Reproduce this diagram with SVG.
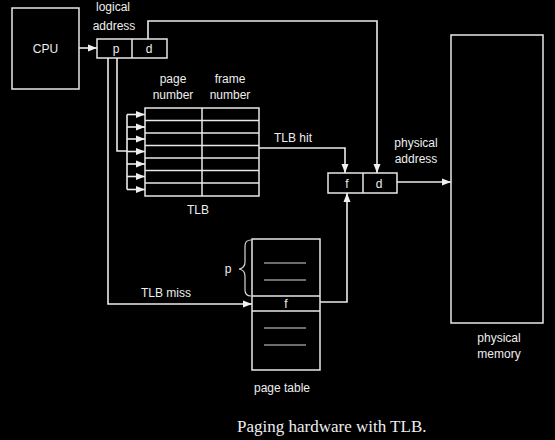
<svg xmlns="http://www.w3.org/2000/svg" width="555" height="440" viewBox="0 0 555 440">
<style>
.bg{fill:#000}
.box{fill:none;stroke:#e8e8e8;stroke-width:1.5}
.ln{fill:none;stroke:#e8e8e8;stroke-width:1.5}
.thin{fill:none;stroke:#d8d8d8;stroke-width:1.2}
.c{fill:none;stroke:#ececec;stroke-width:1.6}
.t{font-family:"Liberation Sans",Arial,sans-serif;font-size:12px;fill:#eee;text-anchor:middle}
.cap{font-family:"Liberation Serif","Times New Roman",serif;font-size:17px;fill:#eee}
</style>
<defs>
<marker id="ah" markerUnits="userSpaceOnUse" markerWidth="10" markerHeight="8" refX="9" refY="4" orient="auto">
<path d="M0,0.5 L9,4 L0,7.5 Z" fill="#f0f0f0"/>
</marker>
</defs>
<rect class="bg" x="0" y="0" width="555" height="440"/>

<g id="cpu">
<rect class="box" x="12" y="8" width="67" height="81"/>
<text class="t" x="45.5" y="53">CPU</text>
</g>

<g id="logical-address">
<text class="t" x="113" y="11">logical</text>
<text class="t" x="114" y="30">address</text>
<rect class="box" x="97" y="39" width="70" height="19"/>
<line class="ln" x1="132" y1="39" x2="132" y2="58"/>
<text class="t" x="116" y="53">p</text>
<text class="t" x="149" y="53">d</text>
</g>

<g id="tlb">
<text class="t" x="173" y="83">page</text>
<text class="t" x="173" y="99">number</text>
<text class="t" x="230" y="83">frame</text>
<text class="t" x="230" y="99">number</text>
<rect class="box" x="145" y="108" width="114" height="88"/>
<line class="ln" x1="202" y1="108" x2="202" y2="196"/>
<line class="ln" x1="145" y1="120.5" x2="259" y2="120.5"/>
<line class="ln" x1="145" y1="133" x2="259" y2="133"/>
<line class="ln" x1="145" y1="145.5" x2="259" y2="145.5"/>
<line class="ln" x1="145" y1="158" x2="259" y2="158"/>
<line class="ln" x1="145" y1="170.5" x2="259" y2="170.5"/>
<line class="ln" x1="145" y1="183" x2="259" y2="183"/>
<text class="t" x="198" y="214">TLB</text>
</g>

<g id="physical-address">
<text class="t" x="416" y="147">physical</text>
<text class="t" x="416" y="163">address</text>
<rect class="box" x="328" y="173" width="69" height="20"/>
<line class="ln" x1="363" y1="173" x2="363" y2="193"/>
<text class="t" x="347" y="188">f</text>
<text class="t" x="379" y="188">d</text>
</g>

<g id="physical-memory">
<rect class="box" x="451" y="35" width="92" height="288"/>
<text class="t" x="499" y="342">physical</text>
<text class="t" x="499" y="358">memory</text>
</g>

<g id="page-table">
<rect class="box" x="252" y="239" width="68" height="131"/>
<line class="ln" x1="252" y1="296" x2="320" y2="296"/>
<line class="ln" x1="252" y1="311" x2="320" y2="311"/>
<line class="thin" x1="264" y1="263" x2="306" y2="263"/>
<line class="thin" x1="264" y1="280" x2="306" y2="280"/>
<line class="thin" x1="264" y1="328" x2="306" y2="328"/>
<line class="thin" x1="264" y1="345" x2="306" y2="345"/>
<text class="t" x="286" y="308">f</text>
<path class="thin" d="M251,240 Q245,240 245,246 V262 Q245,268 239,269 Q245,270 245,276 V290 Q245,296 251,296"/>
<text class="t" x="228" y="273">p</text>
<text class="t" x="282" y="392">page table</text>
</g>

<g id="connectors">
<path class="c" d="M79,48 H97" marker-end="url(#ah)"/>
<path class="c" d="M148,39 V21 H377 V173" marker-end="url(#ah)"/>
<path class="c" d="M117,58 V151 H127"/>
<path class="c" d="M127,114.5 V189.5"/>
<path class="c" d="M127,114.5 H145" marker-end="url(#ah)"/>
<path class="c" d="M127,127 H145" marker-end="url(#ah)"/>
<path class="c" d="M127,139 H145" marker-end="url(#ah)"/>
<path class="c" d="M127,151.5 H145" marker-end="url(#ah)"/>
<path class="c" d="M127,164 H145" marker-end="url(#ah)"/>
<path class="c" d="M127,176.5 H145" marker-end="url(#ah)"/>
<path class="c" d="M127,189.5 H145" marker-end="url(#ah)"/>
<path class="c" d="M259,148 H345 V173" marker-end="url(#ah)"/>
<text class="t" x="293" y="142">TLB hit</text>
<path class="c" d="M108,58 V304 H252" marker-end="url(#ah)"/>
<text class="t" x="166" y="297">TLB miss</text>
<path class="c" d="M320,302 H347 V193" marker-end="url(#ah)"/>
<path class="c" d="M397,182 H451" marker-end="url(#ah)"/>
</g>

<text class="cap" x="237" y="432">Paging hardware with TLB.</text>
</svg>
